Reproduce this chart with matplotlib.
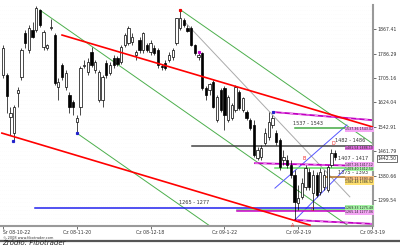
import matplotlib.pyplot as plt
from matplotlib.lines import Line2D
import matplotlib.transforms as mtransforms
import numpy as np

# daily candles, index 0 = 2008-10-22
opens = [1715, 1715, 1576, 1522, 1655, 1709, 1855, 1798, 1865, 1865,
         1931, 1808, 1805, 1871, 1848, 1675, 1748, 1675, 1649, 1625,
         1559, 1609, 1745, 1725, 1792, 1732, 1632, 1632, 1755, 1722,
         1772, 1772, 1758, 1815, 1822, 1825, 1782, 1832, 1798, 1815,
         1792, 1805, 1798, 1745, 1755, 1765, 1775, 1822, 1871, 1898,
         1871, 1871, 1815, 1775, 1788, 1672, 1665, 1692, 1566, 1665,
         1672, 1566, 1572, 1599, 1659, 1599, 1592, 1566, 1549, 1439,
         1442, 1489, 1509, 1549, 1522, 1499, 1433, 1432, 1416, 1383,
         1290, 1309, 1343, 1393, 1323, 1383, 1326, 1343, 1333, 1416,
         1456]
highs = [1815, 1722, 1609, 1615, 1675, 1805, 1865, 1881, 1891, 1945,
         1935, 1865, 1818, 1901, 1855, 1705, 1755, 1732, 1659, 1632,
         1582, 1745, 1765, 1772, 1808, 1765, 1732, 1715, 1765, 1758,
         1782, 1778, 1815, 1855, 1878, 1855, 1798, 1842, 1858, 1822,
         1832, 1815, 1805, 1752, 1765, 1792, 1805, 1905, 1931, 1905,
         1881, 1878, 1818, 1792, 1792, 1679, 1689, 1699, 1649, 1672,
         1679, 1649, 1622, 1682, 1665, 1642, 1599, 1572, 1566, 1476,
         1482, 1539, 1592, 1582, 1532, 1506, 1466, 1449, 1432, 1399,
         1349, 1373, 1416, 1406, 1399, 1393, 1406, 1399, 1416, 1469,
         1466]
lows = [1705, 1589, 1516, 1496, 1609, 1699, 1805, 1788, 1838, 1858,
        1875, 1798, 1798, 1865, 1682, 1632, 1699, 1665, 1589, 1582,
        1522, 1582, 1738, 1715, 1742, 1722, 1625, 1609, 1705, 1715,
        1738, 1745, 1752, 1808, 1815, 1815, 1765, 1788, 1788, 1792,
        1782, 1782, 1738, 1732, 1732, 1758, 1765, 1815, 1865, 1875,
        1858, 1812, 1782, 1765, 1665, 1632, 1649, 1605, 1559, 1592,
        1532, 1559, 1566, 1592, 1599, 1592, 1566, 1532, 1443, 1433,
        1433, 1482, 1499, 1539, 1482, 1399, 1416, 1406, 1373, 1233,
        1266, 1303, 1333, 1333, 1266, 1309, 1316, 1333, 1326, 1409,
        1433]
closes = [1805, 1645, 1589, 1609, 1665, 1798, 1822, 1871, 1842, 1938,
          1881, 1858, 1815, 1875, 1689, 1692, 1709, 1722, 1609, 1609,
          1572, 1738, 1748, 1758, 1748, 1758, 1725, 1709, 1715, 1748,
          1748, 1752, 1808, 1848, 1871, 1842, 1792, 1798, 1855, 1798,
          1822, 1788, 1748, 1742, 1738, 1782, 1798, 1905, 1905, 1881,
          1861, 1815, 1788, 1782, 1672, 1649, 1685, 1609, 1642, 1599,
          1582, 1642, 1615, 1675, 1605, 1639, 1572, 1539, 1449, 1466,
          1472, 1522, 1559, 1572, 1492, 1409, 1442, 1416, 1383, 1293,
          1306, 1356, 1406, 1343, 1383, 1316, 1393, 1383, 1409, 1456,
          1442]
last_price = 1442.50

date_pos = [0, 20, 40, 60, 80, 100]
date_labels = ['Śr 08-10-22', 'Cz 08-11-20', 'Cz 08-12-18', 'Cz 09-1-22',
               'Cz 09-2-19', 'Cz 09-3-19']
price_ticks = [1299.54, 1380.66, 1461.79, 1542.91, 1624.04, 1705.16,
               1786.29, 1867.41]

# trend lines: (x0, p0, x1, p1)
red_lines = [(16.0, 1848, 100.3, 1542), (-0.3, 1522, 83.2, 1216)]
green_lines = [(10.0, 1931, 94.0, 1210), (20.0, 1522, 56.1, 1213),
               (48.2, 1931, 100.3, 1486)]
gray_lines = [(49.3, 1891, 94.0, 1310)]
magenta_lines = [(73.2, 1592, 100.3, 1565), (68.3, 1422, 100.3, 1412),
                 (79.1, 1233, 100.3, 1220)]
blue_diag = [(73.7, 1339, 93.2, 1549), (79.1, 1233, 94.6, 1426)]

# horizontal levels: price, start index, colour
hlevels = [(1273, 8.7, '#2222ee'), (1266, 63.4, '#66dd66'), (1262, 63.4, '#cc00cc'),
           (1538, 79.1, '#44aa44'), (1478, 51.2, '#444444'),
           (1406, 73.7, '#66dd66'), (1376, 87.0, '#b07020')]
level_names = ['1537 - 1543', '1482 - 1486', '1407 - 1417', '1375 - 1393', '1265 - 1277']
level_x = [82.7, 94.0, 95.0, 95.0, 51.8]
level_y = [1546, 1490, 1428, 1382, 1284]

# right hand price boxes
box_prices = [1535, 1472, 1417, 1403, 1371, 1358, 1274, 1259]
box_texts = ['1537.36 1543.02', '1481.54 1486.10', '1407.26 1417.12', '1409.40 1412.58',
             '1375.12 1393.40', '1380.48 1386.52', '1269.33 1275.48', '1265.14 1277.06']
box_colors = ['#f4a6f4', '#e070e0', '#f4a6f4', '#a6f4a6', '#f8c080', '#ffe070',
              '#a6f4a6', '#f4a6f4']

wave_x = [78.5, 81.5, 83.8, 89.5]
wave_y = [1215, 1438, 1268, 1488]
wave_names = ['A', 'B', 'C', 'D']

fig = plt.figure(figsize=(4, 2.47), dpi=100)
ax = fig.add_axes([0, 1 - 226 / 247, 373 / 400, 221 / 247])
ax.set_xlim(-0.81, 100.27)
ax.set_ylim(1213.1, 1947.9)

# faint dotted background
for gy in np.arange(1215, 1947, 13):
    ax.axhline(gy, color='#ececec', lw=0.4, ls=(0, (0.5, 3)), zorder=0)

n = len(opens)
idx = np.arange(n)
o = np.array(opens); c = np.array(closes)
ax.vlines(idx, lows, highs, color='black', lw=0.5, zorder=3)
up = c >= o
ax.bar(idx[up], (c - o)[up], bottom=o[up], width=0.62, color='white',
       edgecolor='black', lw=0.5, zorder=4)
ax.bar(idx[~up], (o - c)[~up], bottom=c[~up], width=0.62, color='black',
       edgecolor='black', lw=0.5, zorder=4)

for x0, p0, x1, p1 in green_lines:
    ax.plot([x0, x1], [p0, p1], color='#4caf4c', lw=0.7, zorder=2)
for x0, p0, x1, p1 in gray_lines:
    ax.plot([x0, x1], [p0, p1], color='#aaaaaa', lw=0.7, zorder=2)
for x0, p0, x1, p1 in blue_diag:
    ax.plot([x0, x1], [p0, p1], color='#5555ff', lw=0.7, zorder=2)
for p, xs, col in hlevels:
    ax.plot([xs, 100.3], [p, p], color=col, lw=1.1, zorder=2)
for x0, p0, x1, p1 in magenta_lines:
    ax.plot([x0, x1], [p0, p1], color='#c000c0', lw=1.3, zorder=2)
    ax.plot([x0, x1], [p0, p1], color='#ff9cff', lw=0.6, ls=(0, (4, 6)), zorder=2)
for x0, p0, x1, p1 in red_lines:
    ax.plot([x0, x1], [p0, p1], color='#ff0000', lw=1.2, zorder=5)

for t, x, y in zip(level_names, level_x, level_y):
    ax.text(x, y, t, fontsize=3.6, color='#333333', ha='center', va='bottom', zorder=6)
for p, t, col in zip(box_prices, box_texts, box_colors):
    ax.text(92.8, p, t, fontsize=2.3, color='#222222', ha='left', va='center', zorder=6,
            bbox=dict(boxstyle='square,pad=0.1', fc=col, ec='none'))
for x, y, t in zip(wave_x, wave_y, wave_names):
    ax.text(x, y, t, fontsize=3.4, color='#ee2222', ha='center', va='center', zorder=6)

# pivot dots
ax.plot([2.7, 20.0, 73.2], [1496, 1522, 1592], 's', color='#2222cc', ms=1.3, zorder=6)
ax.plot([48], [1931], 's', color='#ee0000', ms=1.3, zorder=6)
ax.plot([53], [1792], 's', color='#cc00cc', ms=1.3, zorder=6)

for s in ['top', 'left']:
    ax.spines[s].set_visible(False)
ax.spines['right'].set_color('#999999')
ax.spines['right'].set_linewidth(1.5)
ax.spines['bottom'].set_color('#999999')
ax.spines['bottom'].set_linewidth(1.5)

ax.yaxis.tick_right()
ax.set_yticks(price_ticks)
ax.set_yticklabels(['%.2f' % v for v in price_ticks])
ax.tick_params(axis='y', length=2, width=0.6, color='#555555', labelsize=3.3,
               labelcolor='#333333', pad=1.5)
ax.set_xticks(date_pos)
ax.set_xticklabels(date_labels)
ax.tick_params(axis='x', length=2, width=0.6, color='#555555', labelsize=3.3,
               labelcolor='#333333', pad=1.0)
ax.get_xticklabels()[0].set_ha('left')

# last price box on the right axis
trans = mtransforms.blended_transform_factory(ax.transAxes, ax.transData)
ax.text(1.012, last_price - 4, '%.2f' % last_price, transform=trans, fontsize=3.3,
        color='#222222', ha='left', va='center', clip_on=False,
        bbox=dict(boxstyle='square,pad=0.2', fc='white', ec='#333333', lw=0.5))

fig.text(0.008, 1 - 237.5 / 247, '© 2008 www.fibotrader.com', fontsize=2.5,
         color='#333333', va='center')
fig.add_artist(Line2D([0, 1], [1 - 240.5 / 247, 1 - 240.5 / 247], color='#555555', lw=1.6))
fig.text(0.005, 0.004, 'Źródło: Fibotrader', fontsize=5.0, style='italic',
         color='#222222', va='bottom')

fig.savefig('out.png', dpi=100)
